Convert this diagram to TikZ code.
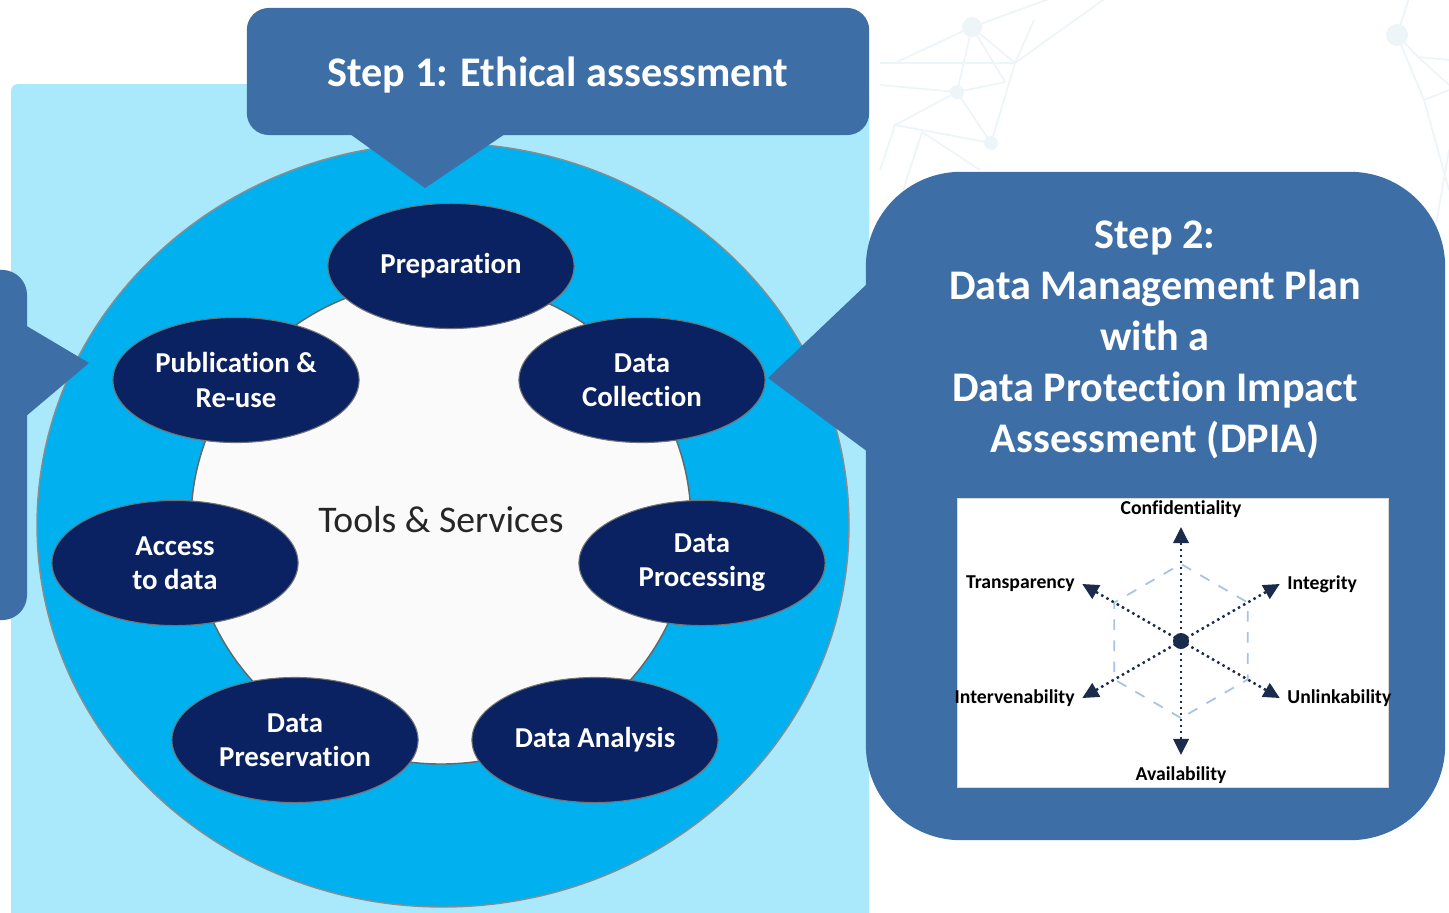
\documentclass[tikz,border=0pt]{standalone}
\usepackage{fontspec}
\setmainfont{Carlito}[Ligatures=NoCommon]
\usepackage{tikz}
\usetikzlibrary{shapes, arrows.meta, calc, positioning}

\definecolor{stepblue}{HTML}{3E6EA6}
\definecolor{paleblue}{HTML}{AAE9FC}
\definecolor{ringblue}{HTML}{00B0EF}
\definecolor{phasenavy}{HTML}{0B2262}
\definecolor{webgray}{HTML}{EEF5F9}
\definecolor{hexblue}{HTML}{A7C3E6}
\definecolor{axisnavy}{HTML}{1B2B4B}

\begin{document}
\begin{tikzpicture}[x=0.01cm,y=-0.01cm,>={Triangle[length=4.6pt,width=4.4pt]}]
	\tikzset{phase/.style={ellipse, fill=phasenavy, draw=black!55, line width=0.3pt, minimum width=2.46cm, minimum height=1.25cm, inner sep=0pt, text=white, align=center, font=\bfseries\fontsize{8.2}{9.7}\selectfont}}
	\tikzset{callout/.style={fill=stepblue, inner sep=0pt}}
	\tikzset{axis/.style={axisnavy, densely dotted, line width=0.7pt, ->}}
	\tikzset{axislabel/.style={inner sep=0pt, text=black, font=\bfseries\fontsize{5.6}{6.5}\selectfont}}
	\useasboundingbox (0,0) rectangle (1449,912);
	\fill[white] (0,0) rectangle (1449,912);

	% faint web in the corner
	\begin{scope}[webgray, line width=0.5pt]
		\draw (897,62) -- (972,27) -- (1015,63) -- (1034,20);
		\draw (880,63) -- (1015,63) -- (991,143) -- (957,92) -- (880,85);
		\draw (972,27) -- (957,92) -- (895,125) -- (991,143);
		\draw (972,27) -- (1005,82) -- (957,92);
		\draw (895,125) -- (880,170) (922,132) -- (900,200) (922,132) -- (980,170);
		\draw (972,27) -- (1060,-5) (1015,63) -- (1110,-5);
		\draw (1397,35) -- (1410,-5) (1397,35) -- (1418,57) -- (1449,60);
		\draw (1397,35) -- (1424,100) -- (1449,90) (1418,57) -- (1449,85);
		\draw (1424,100) -- (1449,190) (1449,150) -- (1435,230);
		\fill (972,27) circle [radius=10] (957,92) circle [radius=7] (991,143) circle [radius=7] (1397,35) circle [radius=11];
	\end{scope}

	% rings
	\fill[paleblue, rounded corners=2pt] (11,84) rectangle (869,930);
	\filldraw[fill=ringblue, draw=black!45, line width=0.4pt] (443,525) ellipse [x radius=406, y radius=382];
	\filldraw[fill=gray!4, draw=black!60, line width=0.4pt] (441,522) ellipse [x radius=250, y radius=242];
	\node[font=\fontsize{10.7}{12}\selectfont, text=black!85] (tools) at (441,520) {Tools \& Services};

	\node[phase] (prep) at (451,266) {Preparation};
	\node[phase] (pub) at (236,380) {Publication \&\\Re-use};
	\node[phase] (coll) at (642,380) {Data\\Collection};
	\node[phase] (access) at (175,563) {Access\\to data};
	\node[phase] (proc) at (702,563) {Data\\Processing};
	\node[phase] (pres) at (295,740) {Data\\Preservation};
	\node[phase] (anal) at (595,740) {Data Analysis};

	% step 1
	\node[callout, rounded corners=0.22cm, minimum width=6.22cm, minimum height=1.27cm] (step1) at (558,71.5) {};
	\node[text=white, font=\bfseries\fontsize{12}{14}\selectfont] (ethics) at (558,75) {Step 1: Ethical assessment};
	\coordinate (tip1) at (425,188);
	\fill[stepblue] (350,134) -- (tip1) -- (505,134) -- cycle;

	% step 2
	\node[callout, rounded corners=0.95cm, minimum width=5.79cm, minimum height=6.68cm] (step2) at (1155.5,506) {};
	\coordinate (tip2) at (768,378);
	\fill[stepblue] (868,283) -- (tip2) -- (868,452) -- cycle;
	\node[text=white, align=center, font=\bfseries\fontsize{12}{14.5}\selectfont] (dmp) at (1155,340) {Step 2:\\Data Management Plan\\with a\\Data Protection Impact\\Assessment (DPIA)};

	% step 3, cut off at the left
	\node[callout, rounded corners=0.25cm, minimum width=0.77cm, minimum height=3.5cm] (step3) at (-11.5,445) {};
	\coordinate (tip3) at (89,363);
	\fill[stepblue] (25,325) -- (tip3) -- (25,417) -- cycle;

	% DPIA radar
	\node[fill=white, draw=black!15, line width=0.3pt, minimum width=4.3cm, minimum height=2.88cm, inner sep=0pt] (dpia) at (1173,643) {};
	\coordinate (hub) at (1181,641);
	\draw[hexblue, dashed, line width=0.5pt, shift={(hub)}] (90:77) \foreach \a in {150,210,270,330,30} { -- (\a:77)} -- cycle;
	\foreach \a/\nm in {-90/conf, -30/integ, 30/unlink, 90/avail, 150/interv, 210/transp}
		\draw[axis] (hub) -- ++(\a:114) coordinate (\nm);
	\fill[axisnavy] (hub) circle [radius=8];
	\node[axislabel, above=0.09cm of conf] (lconf) {Confidentiality};
	\node[axislabel, right=0.07cm of integ] (linteg) {Integrity};
	\node[axislabel, right=0.07cm of unlink] (lunlink) {Unlinkability};
	\node[axislabel, below=0.11cm of avail] (lavail) {Availability};
	\node[axislabel, left=0.07cm of interv] (linterv) {Intervenability};
	\node[axislabel, left=0.07cm of transp] (ltransp) {Transparency};
\end{tikzpicture}
\end{document}
